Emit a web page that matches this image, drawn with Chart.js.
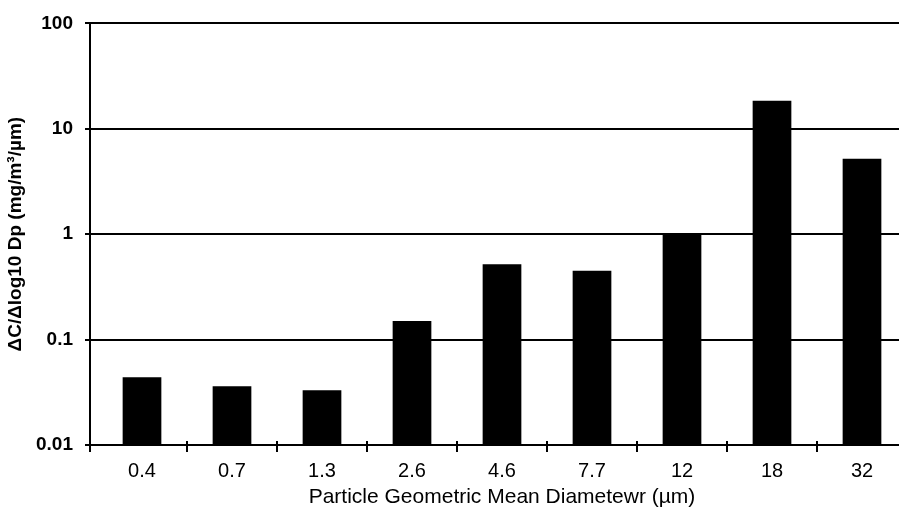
<!DOCTYPE html>
<html>
<head>
<meta charset="utf-8">
<script src="https://cdn.jsdelivr.net/npm/chart.js@4"></script>
<style>
  html, body { margin: 0; padding: 0; background: #fff; overflow: hidden; }
  #wrap { width: 899px; height: 510px; overflow: hidden; }
</style>
</head>
<body>
<div id="wrap"><canvas id="chart" width="910" height="510"></canvas></div>
<script>
// --- datos del gráfico ---
const diametros = ['0.4', '0.7', '1.3', '2.6', '4.6', '7.7', '12', '18', '32'];
const concentracion = [0.044, 0.036, 0.033, 0.15, 0.52, 0.45, 1.0, 18.5, 5.2];
const yTicks = [0.01, 0.1, 1, 10, 100];
const yTickLabels = ['0.01', '0.1', '1', '10', '100'];

const fuente = '"Liberation Sans", Arial, sans-serif';

// eje vertical dibujado un poco a la izquierda del área de barras (como en el original)
const ejeIzq = {
  id: 'ejeIzq',
  afterDraw(chart) {
    const { ctx, chartArea } = chart;
    ctx.save();
    ctx.strokeStyle = '#000';
    ctx.lineWidth = 2;
    ctx.beginPath();
    ctx.moveTo(chartArea.left - 7, chartArea.top);
    ctx.lineTo(chartArea.left - 7, chartArea.bottom + 7);
    ctx.stroke();
    // las marcas del eje x cruzan un poco la línea
    const x = chart.scales.x;
    x.ticks.forEach((t, i) => {
      if (i === 0) return;
      const px = (x.getPixelForTick(i) + x.getPixelForTick(i - 1)) / 2;
      ctx.beginPath();
      ctx.moveTo(px, chartArea.bottom - 4);
      ctx.lineTo(px, chartArea.bottom);
      ctx.stroke();
    });
    ctx.restore();
  }
};

new Chart(document.getElementById('chart'), {
  type: 'bar',
  data: {
    labels: diametros,
    datasets: [{
      data: concentracion,
      backgroundColor: '#000',
      borderWidth: 0,
      categoryPercentage: 1,
      barPercentage: 0.43
    }]
  },
  options: {
    responsive: false,
    devicePixelRatio: 1,
    animation: false,
    layout: { padding: { top: 21, right: 3, left: 0, bottom: 0 } },
    plugins: { legend: { display: false }, tooltip: { enabled: false } },
    scales: {
      x: {
        afterFit(scale) { scale.height = 65; },
        grid: {
          drawOnChartArea: false, drawTicks: true, tickLength: 7, lineWidth: 2,
          color: (c) => c.index === 0 ? 'rgba(0,0,0,0)' : '#000'
        },
        border: { display: true, color: '#000', width: 2 },
        ticks: { color: '#000', font: { family: fuente, size: 20 }, padding: 7 },
        title: {
          display: true,
          text: 'Particle Geometric Mean Diametewr (µm)',
          color: '#000',
          font: { family: fuente, size: 21 },
          padding: { top: 0, bottom: 0 }
        }
      },
      y: {
        type: 'logarithmic',
        min: 0.01,
        max: 100,
        afterFit(scale) { scale.width = 97; },
        afterBuildTicks(scale) { scale.ticks = yTicks.map(v => ({ value: v })); },
        grid: { color: '#000', lineWidth: 2, tickLength: 12 },
        border: { display: false },
        ticks: {
          color: '#000',
          font: { family: fuente, size: 19, weight: 'bold' },
          padding: 12,
          callback: (v) => yTickLabels[yTicks.indexOf(v)] ?? ''
        },
        title: {
          display: true,
          text: 'ΔC/Δlog10 Dp (mg/m³/µm)',
          color: '#000',
          font: { family: fuente, size: 19, weight: 'bold' },
          padding: { top: 4, bottom: 0 }
        }
      }
    }
  },
  plugins: [ejeIzq]
});
</script>
</body>
</html>
